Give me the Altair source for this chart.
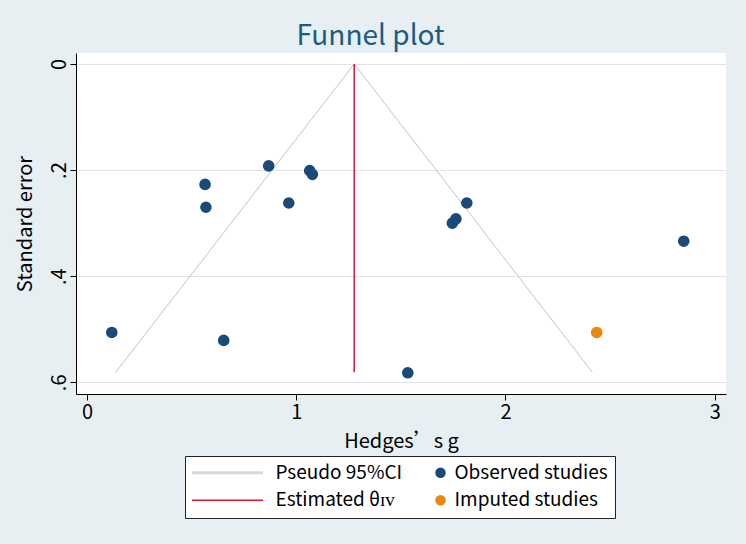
import altair as alt
import pandas as pd

FONT = "Noto Sans CJK SC"

# ---- data ----
obs_g = [0.118, 0.564, 0.568, 0.653, 0.868, 0.964, 1.064, 1.077, 1.746, 1.763, 1.815, 2.852, 1.533]
obs_se = [0.506, 0.227, 0.270, 0.521, 0.192, 0.262, 0.201, 0.208, 0.300, 0.292, 0.262, 0.334, 0.582]
imp_g = [2.436]
imp_se = [0.506]
funnel_g = [0.137, 1.277, 2.415]
funnel_se = [0.581, 0.0, 0.581]
est_g = [1.277, 1.277]
est_se = [0.0, 0.581]

# legend entries (column-major: lines in column 1, points in column 2)
series_names = ["Pseudo 95%CI", "Estimated θɪᴠ", "Observed studies", "Imputed studies"]
series_colors = ["#d9d9dc", "#e3142f", "#1a4b78", "#e8890c"]
line_shape = "M-13.25,0H0.29"
series_shapes = [line_shape, line_shape, "circle", "circle"]
series_widths = [3, 1.5, 0, 0]

x_ticks = [0, 1, 2, 3]
y_ticks = [0, 0.2, 0.4, 0.6]

# ---- tables ----
pts = pd.DataFrame({
    "g": obs_g + imp_g,
    "se": obs_se + imp_se,
    "series": [series_names[2]] * len(obs_g) + [series_names[3]] * len(imp_g),
})
funnel = pd.DataFrame({"g": funnel_g, "se": funnel_se, "o": list(range(len(funnel_g)))})
est = pd.DataFrame({"g": est_g, "se": est_se, "o": list(range(len(est_g))),
                    "series": [series_names[1]] * len(est_g)})
empty = pd.DataFrame({"g": pd.Series([], dtype=float), "se": pd.Series([], dtype=float),
                      "series": pd.Series([], dtype=str)})

leg = alt.Legend(
    title=" ", titleOrient="left", titleFontSize=1, titlePadding=60,
    orient="none", legendX=109, legendY=403, columns=2,
    columnPadding=28, rowPadding=7.7, labelFont=FONT, labelFontSize=19,
    labelColor="black", labelOffset=4.5, labelLimit=400, symbolSize=110,
    padding=7, strokeColor="#222222", fillColor="white", cornerRadius=0,
    symbolOpacity=1,
)

xscale = alt.Scale(domain=[-0.053, 3.054], nice=False, zero=False)
yscale = alt.Scale(domain=[-0.0207, 0.622], nice=False, zero=False, reverse=True)

xaxis = alt.Axis(values=x_ticks, title="Hedges’s g", grid=False, labelAngle=0,
                 labelFont=FONT, labelFontSize=20, labelColor="black",
                 titleFont=FONT, titleFontSize=20, titleFontWeight="normal", titleColor="black",
                 tickColor="black", tickSize=6, domainColor="black", labelPadding=2, titlePadding=9)
yaxis = alt.Axis(values=y_ticks, title="Standard error", grid=True, gridColor="#dde5ea",
                 labelExpr="datum.value == 0 ? '0' : '.' + format(datum.value*10, 'd')",
                 labelAngle=-90, labelAlign="center", labelBaseline="bottom",
                 labelFont=FONT, labelFontSize=20, labelColor="black", labelPadding=1,
                 titleFont=FONT, titleFontSize=20, titleFontWeight="normal", titleColor="black",
                 tickColor="black", tickSize=6, domainColor="black", titlePadding=14)

color_scale = alt.Scale(domain=series_names, range=series_colors)
shape_scale = alt.Scale(domain=series_names, range=series_shapes)
width_scale = alt.Scale(type="ordinal", domain=series_names, range=series_widths)

X = alt.X("g:Q", scale=xscale, axis=xaxis)
Y = alt.Y("se:Q", scale=yscale, axis=yaxis)

# carries the legend's symbol shapes and widths (no rows of its own)
legend_layer = alt.Chart(empty).mark_point(filled=True, opacity=1).encode(
    x=X, y=Y,
    color=alt.Color("series:N", scale=color_scale, legend=leg),
    shape=alt.Shape("series:N", scale=shape_scale, legend=leg),
    strokeWidth=alt.StrokeWidth("series:N", scale=width_scale, legend=leg),
)

funnel_layer = alt.Chart(funnel).mark_line(color="#c3c3d0", strokeWidth=1).encode(
    x=X, y=Y, order="o:O",
)

est_layer = alt.Chart(est).mark_line().encode(
    x=X, y=Y, order="o:O",
    color=alt.Color("series:N", scale=color_scale, legend=leg),
    strokeWidth=alt.StrokeWidth("series:N", scale=width_scale, legend=leg),
)

pt_layer = alt.Chart(pts).mark_circle(opacity=1, size=135).encode(
    x=X, y=Y,
    color=alt.Color("series:N", scale=color_scale, legend=leg),
)

chart = alt.layer(legend_layer, funnel_layer, est_layer, pt_layer).properties(
    width=650, height=341,
    title=alt.Title("Funnel plot", fontSize=28, font=FONT, fontWeight="normal",
                    color="#1d5b82", anchor="middle", frame="bounds", offset=2),
    padding={"left": 76, "top": 53, "right": 20, "bottom": 150},
    autosize=alt.AutoSizeParams(type="none"),
    background="#e7eff2",
).configure_view(fill="white", stroke=None)

chart.save("out.html", embed_options={"renderer": "svg", "actions": False})
